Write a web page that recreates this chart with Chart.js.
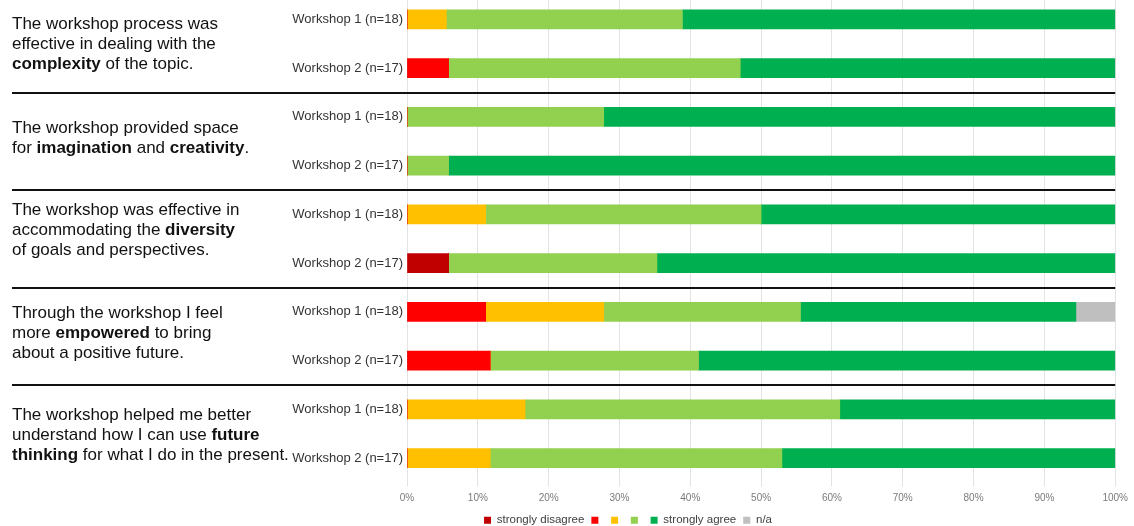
<!DOCTYPE html>
<html>
<head>
<meta charset="utf-8">
<script src="https://cdn.jsdelivr.net/npm/chart.js@4.4.1/dist/chart.umd.min.js"></script>
<style>
  html, body { margin: 0; padding: 0; background: #fff; overflow: hidden; }
  #wrap { width: 1134px; height: 526px; position: relative; overflow: hidden; }
  #box { position: absolute; left: 0; top: -5px; width: 1134px; height: 541px; }
</style>
</head>
<body>
<div id="wrap"><div id="box"><canvas id="chart"></canvas></div></div>
<script>
// Row labels (two workshops per statement)
const rowLabels = [
  "Workshop 1 (n=18)", "Workshop 2 (n=17)",
  "Workshop 1 (n=18)", "Workshop 2 (n=17)",
  "Workshop 1 (n=18)", "Workshop 2 (n=17)",
  "Workshop 1 (n=18)", "Workshop 2 (n=17)",
  "Workshop 1 (n=18)", "Workshop 2 (n=17)"
];

// Share of answers per row, in percent
const stronglyDisagree = [0, 0, 0, 0, 0, 5.88, 0, 0, 0, 0];
const disagree         = [0, 5.88, 0, 0, 0, 0, 11.11, 11.76, 0, 0];
const neutral          = [5.56, 0, 0, 0, 11.11, 0, 16.67, 0, 16.67, 11.76];
const agree            = [33.33, 41.18, 27.78, 5.88, 38.89, 29.41, 27.78, 29.41, 44.44, 41.18];
const stronglyAgree    = [61.11, 52.94, 72.22, 94.12, 50.00, 64.71, 38.89, 58.82, 38.89, 47.06];
const notApplicable    = [0, 0, 0, 0, 0, 0, 5.56, 0, 0, 0];

const seriesNames = ["strongly disagree", "", "", "", "strongly agree", "n/a"];
const xTicks = [0, 10, 20, 30, 40, 50, 60, 70, 80, 90, 100];

// Statements shown at the left; **word** is drawn bold
const questions = [
  ["The workshop process was", "effective in dealing with the", "**complexity** of the topic."],
  ["The workshop provided space", "for **imagination** and **creativity**."],
  ["The workshop was effective in", "accommodating the **diversity**", "of goals and perspectives."],
  ["Through the workshop I feel", "more **empowered** to bring", "about a positive future."],
  ["The workshop helped me better", "understand how I can use **future**", "**thinking** for what I do in the present."]
];

const COLORS = ["#c00000", "#ff0000", "#ffc000", "#92d050", "#00b050", "#bfbfbf"];
const SANS = "'Liberation Sans', Arial, sans-serif";
const TEXT_DARK = "#111111";
const LINE_H = 20;
// small nudges so each text block sits like in the original layout
const TEXT_NUDGE = [1, -3, -8, -3, 2];

// Draws the statements and the separator lines between statement groups
const sidePanel = {
  id: "sidePanel",
  afterDraw(chart) {
    const ctx = chart.ctx;
    const y = chart.scales.y;
    const area = chart.chartArea;
    ctx.save();

    ctx.strokeStyle = TEXT_DARK;
    ctx.lineWidth = 2;
    for (let g = 1; g < questions.length; g++) {
      const py = Math.round(y.getPixelForValue(g * 2 - 0.5));
      ctx.beginPath();
      ctx.moveTo(12, py);
      ctx.lineTo(area.right, py);
      ctx.stroke();
    }

    ctx.textBaseline = "middle";
    ctx.fillStyle = TEXT_DARK;
    questions.forEach((lines, g) => {
      const cy = (y.getPixelForValue(g * 2) + y.getPixelForValue(g * 2 + 1)) / 2 + TEXT_NUDGE[g];
      const top = cy - (lines.length - 1) * LINE_H / 2;
      lines.forEach((line, i) => {
        let x = 12;
        line.split("**").forEach((part, k) => {
          ctx.font = (k % 2 ? "bold " : "") + "17px " + SANS;
          ctx.fillText(part, x, top + i * LINE_H);
          x += ctx.measureText(part).width;
        });
      });
    });
    ctx.restore();
  }
};

const seriesData = [stronglyDisagree, disagree, neutral, agree, stronglyAgree, notApplicable];

new Chart(document.getElementById("chart"), {
  type: "bar",
  data: {
    labels: rowLabels,
    datasets: seriesData.map((values, i) => ({
      label: seriesNames[i],
      data: values,
      backgroundColor: COLORS[i],
      borderWidth: 0,
      barThickness: 19
    }))
  },
  options: {
    indexAxis: "y",
    responsive: true,
    maintainAspectRatio: false,
    animation: false,
    devicePixelRatio: 1,
    layout: { padding: { left: 136, right: 14, top: 0, bottom: 0 } },
    scales: {
      x: {
        stacked: true,
        min: 0,
        max: 100,
        afterBuildTicks: (scale) => { scale.ticks = xTicks.map(v => ({ value: v })); },
        afterFit: (scale) => { scale.height = 25; },
        grid: { color: "#e3e3e3", tickLength: 4, tickColor: "#e3e3e3" },
        border: { display: false },
        ticks: {
          callback: (v) => v + "%",
          font: { family: SANS, size: 10 },
          color: "#7a7a7a",
          padding: 6,
          maxRotation: 0
        }
      },
      y: {
        stacked: true,
        afterFit: (scale) => {
          scale.width = 271;
          scale.paddingTop = 0;
          scale.paddingBottom = 0;
        },
        grid: { display: false, drawTicks: false },
        border: { display: false },
        ticks: {
          font: { family: SANS, size: 13 },
          color: "#333333",
          padding: 4
        }
      }
    },
    plugins: {
      legend: {
        position: "bottom",
        labels: {
          boxWidth: 7,
          boxHeight: 7,
          padding: 7,
          color: "#404040",
          font: { family: SANS, size: 11.5 }
        }
      },
      tooltip: { enabled: false }
    }
  },
  plugins: [sidePanel]
});
</script>
</body>
</html>
